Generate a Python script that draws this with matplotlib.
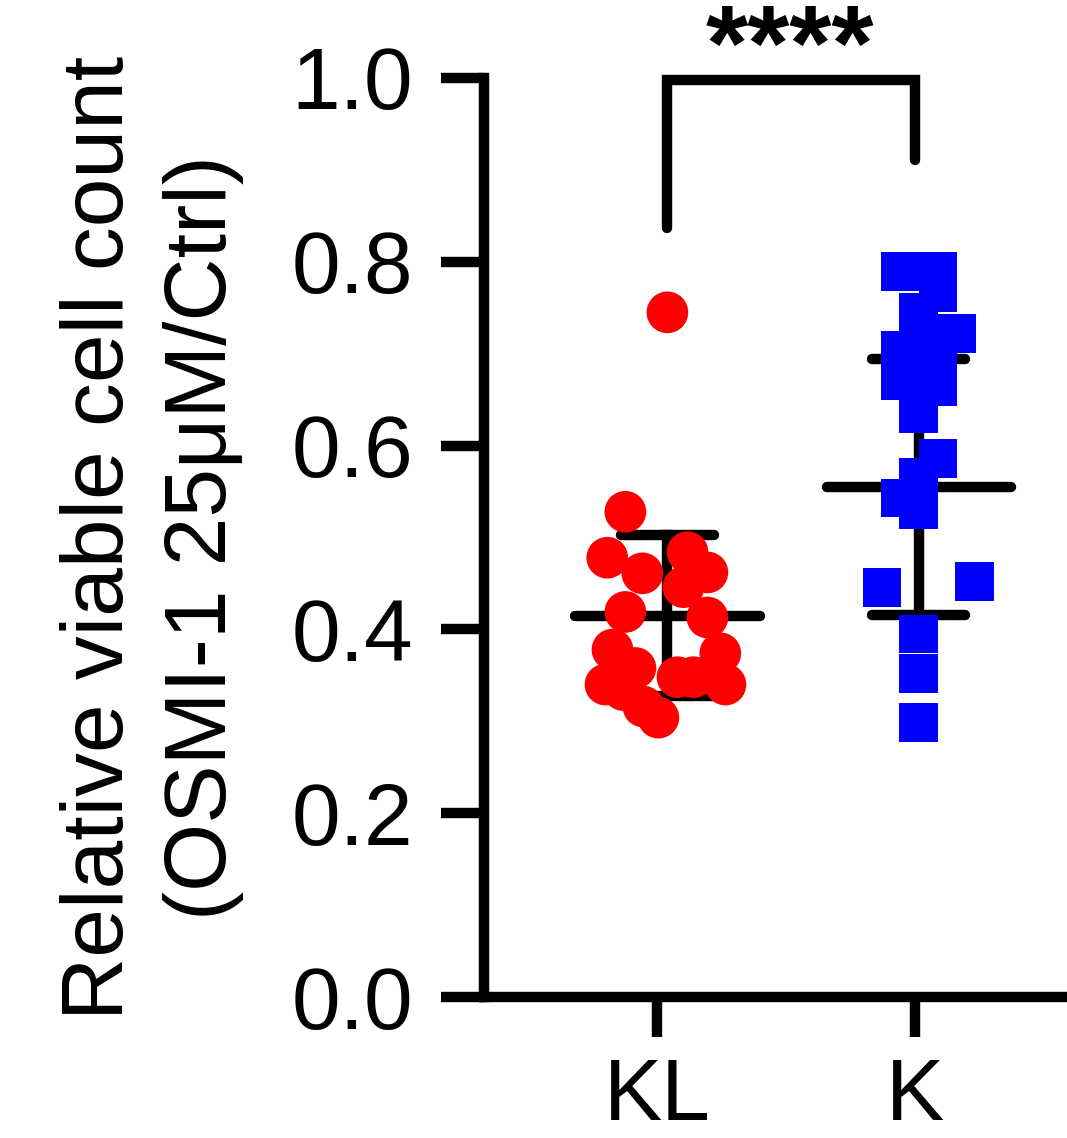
import numpy as np
import matplotlib.pyplot as plt

plt.rcParams['font.family'] = ['Liberation Sans', 'DejaVu Sans']

groups = ['KL', 'K']

# KL (red circles) values and horizontal scatter
kl_vals = [0.745, 0.528, 0.478, 0.461, 0.484, 0.462, 0.446, 0.419, 0.413, 0.378,
           0.358, 0.340, 0.334, 0.304, 0.316, 0.348, 0.348, 0.374, 0.340]
kl_jit = [0.0, -0.163, -0.233, -0.097, 0.078, 0.155, 0.062, -0.163, 0.155, -0.213,
          -0.124, -0.240, -0.171, -0.035, -0.093, 0.039, 0.101, 0.205, 0.225]

# K (blue squares)
k_vals = [0.789, 0.789, 0.766, 0.745, 0.722, 0.720, 0.704, 0.690, 0.682, 0.671, 0.664,
          0.653, 0.635, 0.586, 0.565, 0.543, 0.530, 0.446, 0.452, 0.395, 0.352, 0.299]
k_jit = [-0.07, 0.074, 0.074, 0.0, 0.147, 0.037, -0.07, 0.0, 0.074, -0.07, 0.074,
         0.0, 0.0, 0.074, 0.0, -0.07, 0.0, -0.143, 0.217, 0.0, 0.0, 0.0]

means = [0.415, 0.555]
sds = [0.088, 0.139]
y_ticks = [0.0, 0.2, 0.4, 0.6, 0.8, 1.0]
sig_label = '****'

centers = [0.04, 1.015]
lw = 7.5

fig = plt.figure(figsize=(10.67, 11.38), dpi=100)
ax = fig.add_axes([484/1067, 141/1138, 583/1067, 919/1138])

ax.scatter(centers[0] + np.array(kl_jit), kl_vals, s=30**2, marker='o',
           color='#ff0000', edgecolors='none', zorder=3)
ax.scatter(centers[1] + np.array(k_jit), k_vals, s=28**2, marker='s',
           color='#0000ff', edgecolors='none', zorder=3)

for c, m, sd in zip(centers, means, sds):
    ax.plot([c - 0.357, c + 0.357], [m, m], color='k', lw=lw, solid_capstyle='round', zorder=2)
    ax.plot([c, c], [m - sd, m + sd], color='k', lw=lw, zorder=2)
    for yy in (m - sd, m + sd):
        ax.plot([c - 0.18, c + 0.18], [yy, yy], color='k', lw=lw, solid_capstyle='round', zorder=2)

# significance bracket
ax.plot([centers[0], centers[0], 0.998, 0.998], [0.837, 0.998, 0.998, 0.911],
        color='k', lw=lw, solid_capstyle='round', solid_joinstyle='miter', clip_on=False)
ax.text(0.515, 0.998, sig_label, ha='center', va='baseline', fontsize=78,
        fontweight='bold')

ax.set_xlim(-0.671, 1.589)
ax.set_ylim(0, 1.0)
ax.set_xticks([0, 1])
ax.set_xticklabels(groups)
ax.set_yticks(y_ticks)
ax.set_yticklabels([f'{t:.1f}' for t in y_ticks])
ax.tick_params(axis='y', length=31, width=lw, labelsize=63, pad=20)
ax.tick_params(axis='x', length=29, width=lw, labelsize=63, pad=14)

for s in ['top', 'right']:
    ax.spines[s].set_visible(False)
for s in ['left', 'bottom']:
    ax.spines[s].set_linewidth(lw)

ax.set_ylabel('Relative viable cell count\n(OSMI-1 25μM/Ctrl)', fontsize=63,
              labelpad=34, linespacing=1.35)

fig.savefig('out.png', dpi=100)
